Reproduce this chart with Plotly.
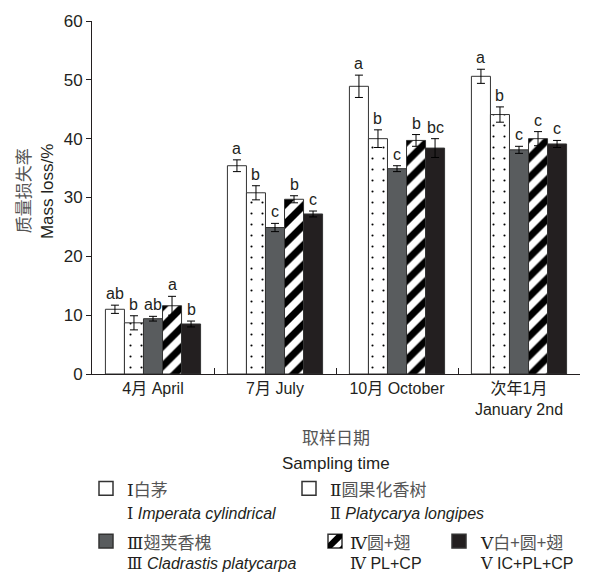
import plotly.graph_objects as go

# Sampling dates (x categories)
categories = ["4月 April", "7月 July", "10月 October", "次年1月<br>January 2nd"]

# Mass loss (%) per litter treatment, with standard errors
mass_I = [11.0, 35.4, 48.9, 50.6]
err_I = [0.7, 1.0, 1.9, 1.2]
mass_II = [8.7, 30.8, 40.0, 44.1]
err_II = [1.2, 1.2, 1.5, 1.3]
mass_III = [9.4, 24.9, 34.9, 38.1]
err_III = [0.4, 0.7, 0.5, 0.6]
mass_IV = [11.6, 29.7, 39.7, 40.0]
err_IV = [1.6, 0.6, 1.0, 1.2]
mass_V = [8.5, 27.2, 38.4, 39.1]
err_V = [0.5, 0.5, 1.6, 0.6]

# Significance letters
letters_I = ["ab", "a", "a", "a"]
letters_II = ["b", "b", "b", "b"]
letters_III = ["ab", "c", "c", "c"]
letters_IV = ["a", "b", "b", "c"]
letters_V = ["b", "c", "bc", "c"]

y_ticks = [0, 10, 20, 30, 40, 50, 60]

FONT = "Liberation Sans, Arial, Noto Sans CJK SC, sans-serif"
CJK = "Noto Sans CJK SC"
ROMAN = "DejaVu Serif, Liberation Serif, serif"
INK = "#231f20"
CN_GREY = "#555555"

series = [
    dict(name="I", y=mass_I, e=err_I, lab=letters_I, color="white", pattern=None),
    dict(name="II", y=mass_II, e=err_II, lab=letters_II, color="white",
         pattern=dict(shape=".", fgcolor="#000000", fgopacity=1, bgcolor="white",
                      size=11, solidity=0.03)),
    dict(name="III", y=mass_III, e=err_III, lab=letters_III, color="#595c5e", pattern=None),
    dict(name="IV", y=mass_IV, e=err_IV, lab=letters_IV, color="white",
         pattern=dict(shape="/", fgcolor="#000000", fgopacity=1, bgcolor="white",
                      size=14, solidity=0.5)),
    dict(name="V", y=mass_V, e=err_V, lab=letters_V, color=INK, pattern=None),
]

BARGAP = 0.22
n = len(series)
bar_w = (1 - BARGAP) / n

fig = go.Figure()
for s in series:
    marker = dict(color=s["color"], line=dict(color="#333333", width=1))
    if s["pattern"]:
        marker["pattern"] = s["pattern"]
    fig.add_trace(go.Bar(
        x=categories, y=s["y"], name=s["name"], marker=marker,
        error_y=dict(type="data", array=s["e"], visible=True,
                     color="black", thickness=1, width=4),
        showlegend=False,
    ))

# Letters above each error bar
annotations = []
for k, s in enumerate(series):
    off = (k - (n - 1) / 2) * bar_w
    for i, (v, e, t) in enumerate(zip(s["y"], s["e"], s["lab"])):
        annotations.append(dict(
            x=i + off, y=v + e, xref="x", yref="y", text=t, showarrow=False,
            yanchor="bottom", yshift=1, font=dict(size=16, color=INK, family=FONT),
        ))

# Plot area in pixels
L, R, T, B = 92, 580, 13, 374


def px(xp):
    return (xp - L) / (R - L)


def py(yp):
    return (B - yp) / (B - T)


def note(x, y, text, size=16, anchor="left", angle=0, color=INK, family=FONT):
    annotations.append(dict(
        x=px(x), y=py(y), xref="paper", yref="paper", text=text, showarrow=False,
        xanchor=anchor, yanchor="middle", textangle=angle,
        font=dict(size=size, color=color, family=family),
    ))


def roman(t):
    return f"<span style='font-family:{ROMAN}'>{t}</span>"


# Axis titles
note(22, 187, "质量损失率", size=17, anchor="center", angle=-90, color=CN_GREY, family=CJK)
note(47, 188, "Mass loss/%", size=17, anchor="center", angle=-90)
note(336, 438, "取样日期", size=17, anchor="center", color=CN_GREY, family=CJK)
note(336, 466, "Sampling time", size=17, anchor="center")

# Legend block: (swatch x, row y, text x, numeral, Chinese name, Latin name, series index)
legend_items = [
    (106, 491, 125, "Ⅰ", "白茅", "<i>Imperata cylindrical</i>", 0),
    (309, 491, 328, "Ⅱ", "圆果化香树", "<i>Platycarya longipes</i>", 1),
    (106, 545, 125, "Ⅲ", "翅荚香槐", "<i>Cladrastis platycarpa</i>", 2),
    (335, 545, 348, "Ⅳ", "圆+翅", "PL+CP", 3),
    (459, 545, 478, "Ⅴ", "白+圆+翅", "IC+PL+CP", 4),
]
shapes = []
for cx, cy, tx, num, cname, lname, k in legend_items:
    h = 7
    fill = series[k]["color"]
    shapes.append(dict(type="rect", xref="paper", yref="paper",
                       x0=px(cx - h), x1=px(cx + h), y0=py(cy + h), y1=py(cy - h),
                       fillcolor=fill, line=dict(color="#333333", width=1.5)))
    if k == 3:
        # diagonal hatch swatch
        a, b = cx - h, cx + h
        top, bot = cy - h, cy + h
        band = [(a, bot - 5), (b - 5, top), (b, top), (b, top + 4), (a + 4, bot), (a, bot)]
        path = "M " + " L ".join(f"{px(x)},{py(y)}" for x, y in band) + " Z"
        shapes.append(dict(type="path", xref="paper", yref="paper", path=path,
                           fillcolor="black", line=dict(width=0)))
        corner = [(b - 3, bot), (b, bot - 3), (b, bot)]
        path2 = "M " + " L ".join(f"{px(x)},{py(y)}" for x, y in corner) + " Z"
        shapes.append(dict(type="path", xref="paper", yref="paper", path=path2,
                           fillcolor="black", line=dict(width=0)))
    line2_y = cy + 26 if cy < 520 else cy + 23
    note(tx, cy, roman(num) + f"<span style='color:{CN_GREY}'>{cname}</span>",
         size=17, family=CJK)
    note(tx, line2_y, roman(num) + " " + lname, size=16)

fig.update_layout(
    width=601, height=580,
    margin=dict(l=L, r=601 - R, t=T, b=580 - B),
    paper_bgcolor="white", plot_bgcolor="white",
    barmode="group", bargap=BARGAP, bargroupgap=0,
    font=dict(family=FONT, color=INK, size=16),
    annotations=annotations, shapes=shapes,
    xaxis=dict(
        type="category", range=[-0.5, 3.5],
        showline=True, linecolor=INK, linewidth=1,
        ticks="inside", tickson="boundaries", ticklen=6, tickcolor=INK,
        tickfont=dict(size=16, color=INK, family=FONT),
        showgrid=False, zeroline=False,
    ),
    yaxis=dict(
        range=[0, 60], tickvals=y_ticks,
        showline=True, linecolor=INK, linewidth=1,
        ticks="outside", ticklen=5, tickcolor=INK,
        tickfont=dict(size=17, color=INK, family=FONT),
        showgrid=False, zeroline=False,
    ),
)

fig.write_html("out.html")
